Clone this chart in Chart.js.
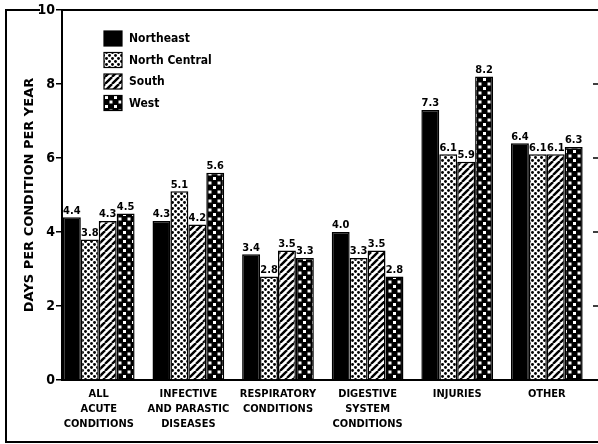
<!DOCTYPE html>
<html>
<head>
<meta charset="utf-8">
<script src="https://cdn.jsdelivr.net/npm/chart.js@4/dist/chart.umd.min.js"></script>
<style>
    html, body { margin: 0; padding: 0; background: #fff; }
    #wrap { width: 598px; height: 444px; }
</style>
</head>
<body>
<div id="wrap"><canvas id="chart" width="598" height="444"></canvas></div>
<script>
const categories = [
    ["ALL", "ACUTE", "CONDITIONS"],
    ["INFECTIVE", "AND PARASTIC", "DISEASES"],
    ["RESPIRATORY", "CONDITIONS"],
    ["DIGESTIVE", "SYSTEM", "CONDITIONS"],
    ["INJURIES"],
    ["OTHER"]
];
const regions = ["Northeast", "North Central", "South", "West"];
const northeast = [4.4, 4.3, 3.4, 4.0, 7.3, 6.4];
const northCentral = [3.8, 5.1, 2.8, 3.3, 6.1, 6.1];
const south = [4.3, 4.2, 3.5, 3.5, 5.9, 6.1];
const west = [4.5, 5.6, 3.3, 2.8, 8.2, 6.3];
const yTicks = [0, 2, 4, 6, 8, 10];

const FONT = '"DejaVu Sans Condensed", "DejaVu Sans", sans-serif';

function makePattern(kind) {
    const c = document.createElement("canvas");
    const g = c.getContext("2d");
    if (kind === "dots") {
        c.width = 6; c.height = 6;
        g.fillStyle = "#fff"; g.fillRect(0, 0, 6, 6);
        g.fillStyle = "#000";
        [[1.5, 1.5], [4.5, 4.5]].forEach(([x, y]) => {
            g.beginPath(); g.arc(x, y, 1.45, 0, Math.PI * 2); g.fill();
        });
    } else if (kind === "stripes") {
        c.width = 7; c.height = 7;
        g.fillStyle = "#fff"; g.fillRect(0, 0, 7, 7);
        g.strokeStyle = "#000"; g.lineWidth = 2.4;
        [-7, 0, 7].forEach(o => {
            g.beginPath(); g.moveTo(o, 7); g.lineTo(o + 7, 0); g.stroke();
        });
    } else {
        c.width = 9; c.height = 9;
        g.fillStyle = "#000"; g.fillRect(0, 0, 9, 9);
        g.fillStyle = "#fff";
        g.fillRect(1.5, 1.5, 3, 3);
        g.fillRect(6, 6, 3, 3);
    }
    return g.createPattern(c, "repeat");
}

const fills = ["#000", makePattern("dots"), makePattern("stripes"), makePattern("squares")];
const series = [northeast, northCentral, south, west];

const valueLabels = {
    id: "valueLabels",
    afterDatasetsDraw(chart) {
        const ctx = chart.ctx;
        ctx.save();
        ctx.fillStyle = "#000";
        ctx.font = "bold 11px " + FONT;
        ctx.textAlign = "center";
        ctx.textBaseline = "bottom";
        chart.data.datasets.forEach((ds, i) => {
            chart.getDatasetMeta(i).data.forEach((bar, j) => {
                ctx.fillText(series[i][j].toFixed(1), bar.x, bar.y - 1);
            });
        });
        ctx.restore();
    }
};

const legendBox = {
    id: "legendBox",
    afterDraw(chart) {
        const ctx = chart.ctx;
        ctx.save();
        ctx.font = "bold 12px " + FONT;
        ctx.textBaseline = "middle";
        chart.data.datasets.forEach((ds, i) => {
            const y = 38 + i * 21.5;
            ctx.fillStyle = ds.backgroundColor;
            ctx.fillRect(104, y - 7, 18, 15);
            ctx.strokeStyle = "#000";
            ctx.lineWidth = 1.2;
            ctx.strokeRect(104, y - 7, 18, 15);
            ctx.fillStyle = "#000";
            ctx.fillText(ds.label, 129, y + 1);
        });
        ctx.restore();
    }
};

const frame = {
    id: "frame",
    afterDraw(chart) {
        const ctx = chart.ctx;
        const { top, left } = chart.chartArea;
        const yScale = chart.scales.y;
        ctx.save();
        ctx.strokeStyle = "#000";
        ctx.lineWidth = 2;
        ctx.beginPath();
        ctx.moveTo(40, top); ctx.lineTo(6, top); ctx.lineTo(6, 442); ctx.lineTo(598, 442);
        ctx.moveTo(left, top); ctx.lineTo(598, top);
        ctx.stroke();
        ctx.lineWidth = 1.5;
        ctx.beginPath();
        [2, 4, 6, 8].forEach(v => {
            const y = yScale.getPixelForValue(v);
            ctx.moveTo(593, y); ctx.lineTo(598, y);
        });
        ctx.stroke();
        ctx.restore();
    }
};

new Chart(document.getElementById("chart"), {
    type: "bar",
    data: {
        datasets: regions.map((name, i) => ({
            label: name,
            data: series[i].map((v, j) => ({ x: j, y: v })),
            backgroundColor: fills[i],
            borderColor: "#000",
            borderWidth: 1.5,
            categoryPercentage: 0.8,
            barPercentage: 1.0
        }))
    },
    options: {
        responsive: false,
        animation: false,
        layout: { padding: { top: 10, left: 0, right: 1, bottom: 0 } },
        plugins: { legend: { display: false }, tooltip: { enabled: false } },
        scales: {
            x: {
                type: "linear",
                offset: false,
                min: -0.41,
                max: 5.56,
                afterFit: s => { s.height = 64; },
                afterBuildTicks: s => { s.ticks = categories.map((c, i) => ({ value: i })); },
                grid: { display: false, offset: false },
                border: { display: true, color: "#000", width: 2 },
                ticks: {
                    color: "#000",
                    padding: -1,
                    maxRotation: 0,
                    autoSkip: false,
                    font: { family: FONT, weight: "bold", size: 11, lineHeight: 1.36 },
                    callback: v => categories[v] || ""
                }
            },
            y: {
                min: 0,
                max: 10,
                afterFit: s => { s.width = 62; },
                afterBuildTicks: s => { s.ticks = yTicks.map(v => ({ value: v })); },
                grid: { drawOnChartArea: false, drawTicks: true, tickLength: 6, color: "#000", lineWidth: 1.5 },
                border: { display: true, color: "#000", width: 2 },
                ticks: {
                    color: "#000",
                    padding: 1,
                    font: { family: FONT, weight: "bold", size: 14 }
                },
                title: {
                    display: true,
                    text: "DAYS PER CONDITION PER YEAR",
                    color: "#000",
                    padding: { top: 22, bottom: 0 },
                    font: { family: '"DejaVu Sans", sans-serif', weight: "bold", size: 13 }
                }
            }
        }
    },
    plugins: [valueLabels, legendBox, frame]
});
</script>
</body>
</html>
